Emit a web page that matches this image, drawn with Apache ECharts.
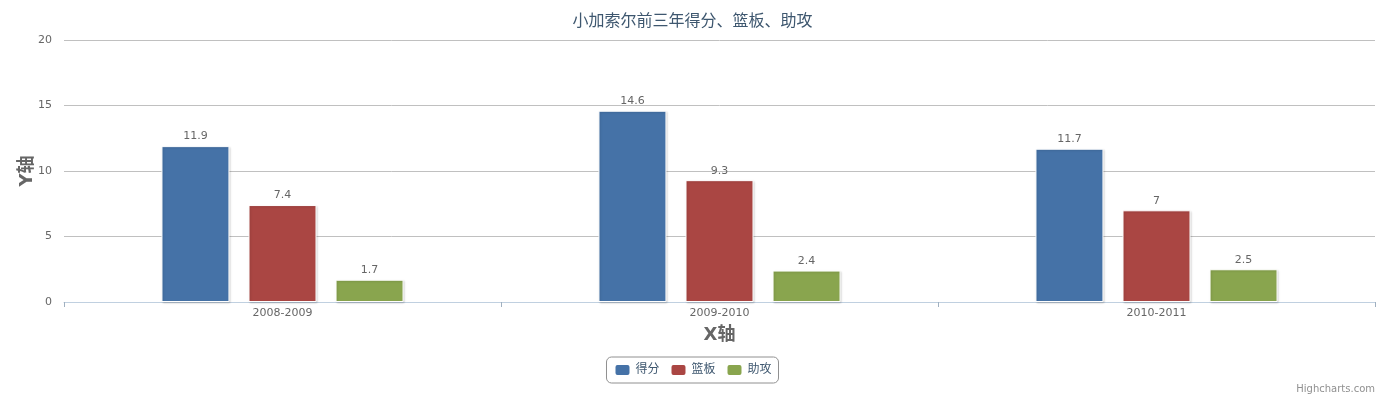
<!DOCTYPE html>
<html>
<head>
<meta charset="utf-8">
<script src="https://cdn.jsdelivr.net/npm/echarts@6/dist/echarts.min.js"></script>
<style>
html, body { margin: 0; padding: 0; background: #fff; }
#main { width: 1385px; height: 400px; }
</style>
</head>
<body>
<div id="main"></div>
<script>
var seasons = ['2008-2009', '2009-2010', '2010-2011'];
var points = [11.9, 14.6, 11.7];
var rebounds = [7.4, 9.3, 7];
var assists = [1.7, 2.4, 2.5];
var yTicks = [0, 5, 10, 15, 20];

var myChart = echarts.init(document.getElementById('main'));

var font = '"Lucida Grande", "DejaVu Sans", "Noto Sans CJK SC", sans-serif';

function barSeries(name, data, color) {
    return {
        name: name,
        type: 'bar',
        data: data,
        barWidth: 68,
        barGap: '28%',
        itemStyle: {
            color: color,
            borderColor: '#fff',
            borderWidth: 1,
            shadowColor: 'rgba(0,0,0,0.15)',
            shadowBlur: 2,
            shadowOffsetX: 1,
            shadowOffsetY: 1
        },
        label: {
            show: true,
            position: 'top',
            distance: 4,
            color: '#666',
            fontSize: 11,
            fontFamily: font
        }
    };
}

var option = {
    animation: false,
    textStyle: { fontFamily: font },
    title: {
        text: '小加索尔前三年得分、篮板、助攻',
        left: 'center',
        top: 9,
        textStyle: {
            color: '#3E576F',
            fontSize: 16,
            fontWeight: 'normal',
            fontFamily: font
        }
    },
    legend: {
        data: ['得分', '篮板', '助攻'],
        bottom: 17,
        left: 'center',
        icon: 'roundRect',
        itemWidth: 16,
        itemHeight: 12,
        itemGap: 10,
        borderColor: '#909090',
        borderWidth: 1,
        borderRadius: 5,
        padding: [6, 7, 6, 7],
        textStyle: { color: '#3E576F', fontSize: 12, fontFamily: font }
    },
    grid: {
        left: 64,
        right: 10,
        top: 40,
        bottom: 98
    },
    xAxis: {
        type: 'category',
        data: seasons,
        name: 'X轴',
        nameLocation: 'middle',
        nameGap: 24,
        nameTextStyle: { color: '#666', fontSize: 18, fontWeight: 'bold' },
        axisLine: { lineStyle: { color: '#C0D0E0' } },
        axisTick: { show: true, alignWithLabel: false, lineStyle: { color: '#A0B0C0' }, length: 5 },
        axisLabel: { color: '#666', fontSize: 11, margin: 6 }
    },
    yAxis: {
        type: 'value',
        min: yTicks[0],
        max: yTicks[yTicks.length - 1],
        interval: 5,
        name: 'Y轴',
        nameLocation: 'middle',
        nameGap: 28,
        nameMoveOverlap: false,
        nameTextStyle: { color: '#666', fontSize: 18, fontWeight: 'bold' },
        axisLine: { show: false },
        axisTick: { show: false },
        axisLabel: { color: '#666', fontSize: 11, margin: 12 },
        splitLine: { lineStyle: { color: '#C0C0C0' } }
    },
    graphic: [{
        type: 'text',
        right: 10,
        bottom: 6,
        style: {
            text: 'Highcharts.com',
            fill: '#909090',
            fontSize: 10,
            fontFamily: font
        }
    }],
    series: [
        barSeries('得分', points, '#4572A7'),
        barSeries('篮板', rebounds, '#AA4643'),
        barSeries('助攻', assists, '#89A54E')
    ]
};

myChart.setOption(option);
</script>
</body>
</html>
